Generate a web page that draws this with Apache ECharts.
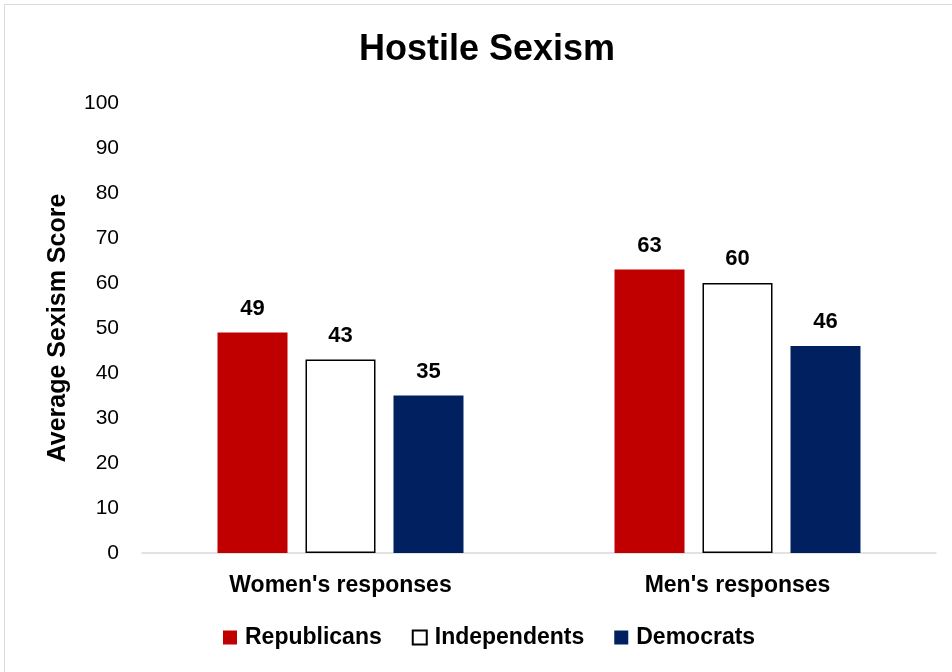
<!DOCTYPE html>
<html>
<head>
<meta charset="utf-8">
<script src="https://cdn.jsdelivr.net/npm/echarts@6/dist/echarts.min.js"></script>
<style>
  html, body { margin: 0; padding: 0; background: #ffffff; }
  #chart { width: 952px; height: 672px; }
</style>
</head>
<body>
<div id="chart"></div>
<script>
// Category groups and party scores
const categories = ["Women's responses", "Men's responses"];
const republicans = [49, 63];
const independents = [43, 60];
const democrats = [35, 46];
const yTicks = { min: 0, max: 100, interval: 10 };

const FONT = '"Liberation Sans", Arial, sans-serif';

const chart = echarts.init(document.getElementById('chart'), null, { renderer: 'canvas' });

const labelStyle = {
  show: true,
  position: 'top',
  distance: 13,
  fontFamily: FONT,
  fontWeight: 'bold',
  fontSize: 22,
  color: '#000000'
};

chart.setOption({
  animation: false,
  backgroundColor: '#ffffff',
  title: {
    text: 'Hostile Sexism',
    left: 354,
    top: 27,
    textStyle: { fontFamily: FONT, fontWeight: 'bold', fontSize: 36, color: '#000000' }
  },
  graphic: [{
    type: 'rect',
    shape: { x: 4.5, y: 4.5, width: 960, height: 680 },
    style: { fill: 'none', stroke: '#d9d9d9', lineWidth: 1 },
    silent: true
  }],
  legend: {
    top: 621,
    left: 218,
    itemWidth: 14,
    itemHeight: 14,
    itemGap: 30,
    icon: 'rect',
    textStyle: { fontFamily: FONT, fontWeight: 'bold', fontSize: 23, color: '#000000', padding: [0, 0, 0, 3] },
    data: ['Republicans', 'Independents', 'Democrats']
  },
  grid: { left: 142, right: 16, top: 103, bottom: 119 },
  xAxis: {
    type: 'category',
    data: categories,
    axisLine: { lineStyle: { color: '#d9d9d9', width: 1.5 } },
    axisTick: { show: false },
    axisLabel: { fontFamily: FONT, fontWeight: 'bold', fontSize: 23, color: '#000000', margin: 21 }
  },
  yAxis: {
    type: 'value',
    min: yTicks.min,
    max: yTicks.max,
    interval: yTicks.interval,
    name: 'Average Sexism Score',
    nameLocation: 'middle',
    nameGap: 71,
    nameTextStyle: { fontFamily: FONT, fontWeight: 'bold', fontSize: 25, color: '#000000' },
    splitLine: { show: false },
    axisLine: { show: false },
    axisTick: { show: false },
    axisLabel: { fontFamily: FONT, fontSize: 21, color: '#000000', margin: 23 }
  },
  series: [
    {
      name: 'Republicans',
      type: 'bar',
      data: republicans,
      barWidth: 70,
      barGap: '25.7%',
      itemStyle: { color: '#C00000' },
      label: labelStyle
    },
    {
      name: 'Independents',
      type: 'bar',
      data: independents,
      barWidth: 70,
      barGap: '25.7%',
      itemStyle: { color: '#ffffff', borderColor: '#000000', borderWidth: 1.5 },
      label: labelStyle
    },
    {
      name: 'Democrats',
      type: 'bar',
      data: democrats,
      barWidth: 70,
      barGap: '25.7%',
      itemStyle: { color: '#002060' },
      label: labelStyle
    }
  ]
});
</script>
</body>
</html>
